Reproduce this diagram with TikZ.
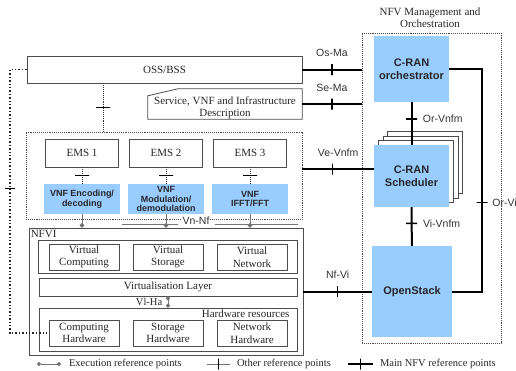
\documentclass[tikz,border=0pt]{standalone}
\usepackage{fontspec}
\setmainfont{Liberation Serif}
\setsansfont{Liberation Sans}
\usetikzlibrary{arrows.meta}
\definecolor{ranblue}{RGB}{153,204,255}

\begin{document}
\begin{tikzpicture}[x=1pt, y=-1pt,
    box/.style = {draw=black!70, line width=0.8pt, inner sep=1pt, align=center, text=black!85, font=\fontsize{11}{12.5}\selectfont},
    dotbox/.style = {draw=black!70, densely dotted, line width=0.9pt},
    sheet/.style = {draw=black!70, fill=white, line width=0.8pt},
    cran/.style = {fill=ranblue, align=center, text=black!85, font=\sffamily\bfseries\fontsize{11}{13}\selectfont},
    vnf/.style = {fill=ranblue, align=center, minimum width=76pt, minimum height=30pt, inner sep=1pt, text=black!85, font=\sffamily\bfseries\fontsize{9}{9.8}\selectfont},
    rlabel/.style = {text=black!80, font=\sffamily\fontsize{10.5}{12}\selectfont},
    legend/.style = {anchor=west, text=black!85, font=\fontsize{10.5}{12}\selectfont},
    mref/.style = {draw=black, line width=2pt},
    oref/.style = {draw=black!80, densely dotted, line width=0.9pt},
    dotconn/.style = {draw=black!85, dotted, line width=1.4pt},
    eref/.style = {draw=black!55, line width=1pt},
    edot/.style = {eref, -{Circle[length=4.5pt]}},
    mtick/.style = {midway, sloped, solid, draw=black, line width=1.6pt, shape=rectangle, inner sep=0pt, minimum width=0pt, minimum height=11pt},
    otick/.style = {midway, sloped, solid, draw=black, line width=0.8pt, shape=rectangle, inner sep=0pt, minimum width=0pt, minimum height=14pt}]
\useasboundingbox (0,0) rectangle (516,370);

% NFV management and orchestration
\node[align=center, text=black!85, font=\fontsize{11}{12}\selectfont] (manotitle) at (430,18) {NFV Management and\\Orchestration};
\node[dotbox, minimum width=139pt, minimum height=310pt] (mano) at (431.5,188) {};
\node[cran, minimum width=75pt, minimum height=66pt] (orch) at (411.5,69) {C-RAN\\orchestrator};
\foreach \k in {3,2,1}
    \node[sheet, minimum width=75pt, minimum height=62pt] (sheet\k) at ({411.5+4.5*\k},{176-4.5*\k}) {};
\node[cran, minimum width=75pt, minimum height=62pt] (sched) at (411.5,176) {C-RAN\\Scheduler};
\node[cran, minimum width=80pt, minimum height=91pt] (openstack) at (412,291.5) {OpenStack};

% OSS/BSS and descriptions
\node[box, minimum width=275pt, minimum height=27pt] (oss) at (164.5,69.5) {OSS/BSS};
\node[minimum width=154pt, minimum height=30pt, inner sep=0pt] (svc) at (225,104) {};
\draw[draw=black!70, line width=0.8pt] ([yshift=-7pt]svc.north west) -- ([xshift=30pt]svc.north west) -- (svc.north east) -- (svc.south east) -- (svc.south west) -- cycle;
\node[align=center, text=black!85, font=\fontsize{11}{12}\selectfont] (svctext) at (225,108) {Service, VNF and Infrastructure\\Description};

% EMS and VNFs
\node[dotbox, minimum width=276pt, minimum height=87pt] (emsarea) at (164,175.5) {};
\foreach \i/\x in {1/82, 2/166, 3/250}
    \node[box, minimum width=73pt, minimum height=28pt] (ems\i) at (\x,153) {EMS \i};
\node[vnf] (vnf1) at (82,199) {VNF Encoding/\\decoding};
\node[vnf] (vnf2) at (166,199) {VNF\\Modulation/\\demodulation};
\node[vnf] (vnf3) at (250,199) {VNF\\IFFT/FFT};

% NFVI
\node[box, minimum width=274pt, minimum height=127pt] (nfvi) at (166,291.5) {};
\node[anchor=north west, inner sep=1pt, text=black!85, font=\fontsize{11}{12}\selectfont] (nfvilabel) at ([xshift=1pt, yshift=-1pt]nfvi.north west) {NFVI};
\node[box, minimum width=259pt, minimum height=33pt] (virtgrp) at (167.5,256.5) {};
\foreach \n/\x/\t in {vcomp/84/{Virtual\\Computing}, vstor/168/{Virtual\\Storage}, vnet/252/{Virtual\\Network}}
    \node[box, minimum width=70pt, minimum height=26pt] (\n) at (\x,257) {\t};
\node[box, minimum width=258pt, minimum height=18pt] (vlayer) at (168,287) {Virtualisation Layer};
\node[box, minimum width=258pt, minimum height=43pt] (hwgrp) at (168,329.5) {};
\node[anchor=east, text=black!85, font=\fontsize{11}{12}\selectfont] (hwlabel) at (293,314) {Hardware resources};
\foreach \n/\x/\t in {chw/84/{Computing\\Hardware}, shw/168/{Storage\\Hardware}, nhw/252/{Network\\Hardware}}
    \node[box, minimum width=70pt, minimum height=26pt] (\n) at (\x,333) {\t};

% other reference points
\coordinate (ossx) at (103,0);
\coordinate (lx) at (10,0);
\draw[oref] (oss.south -| ossx) -- node[otick]{} (emsarea.north -| ossx);
\foreach \i in {1,2,3}
    \draw[oref] (ems\i) -- node[otick]{} (vnf\i);
\draw[dotconn] (oss.west) -- (oss.west -| lx) -- node[otick, pos=0.45, minimum height=10pt]{} (chw.west -| lx) -- (chw.west);

% execution reference points
\coordinate (busa) at (122,224);
\coordinate (busb) at (178,224);
\coordinate (busc) at (215,224);
\coordinate (busd) at (298,224);
\draw[eref] (busa) -- (busb) (busc) -- (busd);
\foreach \i in {1,2,3}
    \draw[edot] (vnf\i.south) -- (vnf\i.south |- nfvi.north);
\node[rlabel, fill=white, inner sep=1pt] (vnnf) at (196,221) {Vn-Nf};
\draw[eref, {Circle[length=4pt]}-{Circle[length=4pt]}] (vlayer.south) -- node[midway, left=2pt, text=black!85, font=\fontsize{10.5}{12}\selectfont] {Vl-Ha} (hwgrp.north);

% main NFV reference points
\coordinate (vevnfm) at (0,169);
\coordinate (orvix) at (482,0);
\draw[mref] (oss.east) -- node[mtick]{} node[midway, above=9pt, rlabel]{Os-Ma} (oss.east -| mano.west);
\draw[mref] (svc.east) -- node[mtick]{} node[midway, above=8pt, rlabel]{Se-Ma} (svc.east -| mano.west);
\draw[mref] (emsarea.east |- vevnfm) -- node[mtick, pos=0.42]{} node[midway, above=8pt, rlabel]{Ve-Vnfm} (sched.west |- vevnfm);
\draw[mref] (nfvi.east) -- node[mtick]{} node[midway, above=9pt, rlabel]{Nf-Vi} (nfvi.east -| openstack.west);
\draw[mref] (orch) -- node[mtick, pos=0.4]{} node[pos=0.4, right=7pt, rlabel]{Or-Vnfm} (sched);
\draw[mref] (sched) -- node[mtick, pos=0.42]{} node[pos=0.42, right=7pt, rlabel]{Vi-Vnfm} (openstack);
\draw[mref] (orch.east) -- (orch.east -| orvix) -- node[mtick, pos=0.6]{} node[pos=0.6, right=6pt, rlabel]{Or-Vi} (openstack.east -| orvix) -- (openstack.east);

% legend
\coordinate (lega1) at (37,364);
\coordinate (lega2) at (61,364);
\coordinate (legb1) at (207,364);
\coordinate (legb2) at (230,364);
\coordinate (legc1) at (348,364);
\coordinate (legc2) at (373,364);
\draw[eref, {Circle[length=4pt]}-{Circle[length=4pt]}] (lega1) -- (lega2);
\node[legend] (legatext) at (65.5,364) {Execution reference points};
\draw[eref] (legb1) -- node[otick, minimum height=11pt]{} (legb2);
\node[legend] (legbtext) at (233.5,364) {Other reference points};
\draw[mref] (legc1) -- node[mtick]{} (legc2);
\node[legend] (legctext) at (376.5,364) {Main NFV reference points};

\end{tikzpicture}
\end{document}
